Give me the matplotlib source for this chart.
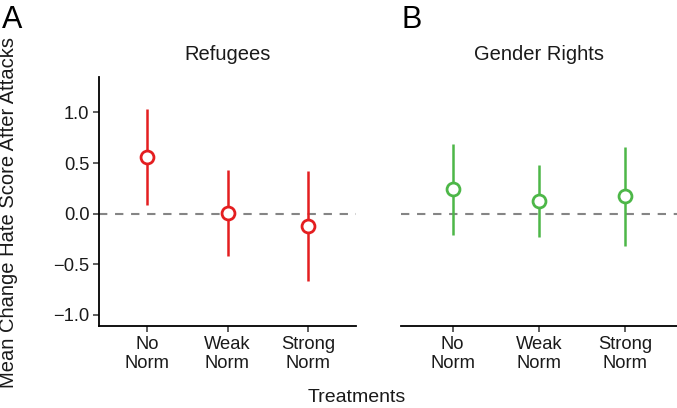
import matplotlib
matplotlib.use("Agg")
import matplotlib.pyplot as plt

plt.rcParams['font.family'] = ['Liberation Sans', 'DejaVu Sans']

categories = ["No\nNorm", "Weak\nNorm", "Strong\nNorm"]

refugees_mean = [0.558, 0.010, -0.119]
refugees_low = [0.083, -0.419, -0.666]
refugees_high = [1.034, 0.433, 0.426]

gender_mean = [0.240, 0.126, 0.172]
gender_low = [-0.214, -0.234, -0.317]
gender_high = [0.690, 0.482, 0.663]

yticks = [-1.0, -0.5, 0.0, 0.5, 1.0]
ytick_labels = ["\u22121.0", "\u22120.5", "0.0", "0.5", "1.0"]

RED = "#E41E20"
GREEN = "#4DB748"

W, H = 677, 408
fig = plt.figure(figsize=(W / 100, H / 100), dpi=100)

def px_axes(x0, x1, y_top, y_bot):
    return fig.add_axes([x0 / W, 1 - y_bot / H, (x1 - x0) / W, (y_bot - y_top) / H])

axA = px_axes(99, 356, 77, 326)
axB = px_axes(401, 677, 77, 326)

def draw(ax, mean, low, high, color, title, show_y):
    xs = list(range(1, len(categories) + 1))
    ax.axhline(0, color="#858585", lw=1.5, ls=(0, (4, 3.7)), zorder=1)
    ax.vlines(xs, low, high, color=color, lw=1.8, zorder=2)
    ax.plot(xs, mean, ls="none", marker="o", ms=9.3, mfc="white", mec=color, mew=2.0, zorder=3)
    ax.set_xlim(0.4, 3.6)
    ax.set_ylim(-1.11, 1.35)
    ax.set_xticks(xs)
    ax.set_xticklabels(categories, fontsize=13.2, color="#1a1a1a", linespacing=1.15)
    for s in ["top", "right"]:
        ax.spines[s].set_visible(False)
    ax.spines["bottom"].set_linewidth(1.3)
    ax.spines["left"].set_linewidth(1.3)
    ax.tick_params(axis="x", length=4, width=1.1, color="#333333", pad=3)
    if show_y:
        ax.set_yticks(yticks)
        ax.set_yticklabels(ytick_labels, fontsize=13.2, color="#1a1a1a")
        ax.tick_params(axis="y", length=4, width=1.1, color="#333333", pad=3)
    else:
        ax.spines["left"].set_visible(False)
        ax.set_yticks([])
    ax.set_title(title, fontsize=14.5, pad=12.5, color="#1a1a1a")

draw(axA, refugees_mean, refugees_low, refugees_high, RED, "Refugees", True)
draw(axB, gender_mean, gender_low, gender_high, GREEN, "Gender Rights", False)

fig.text(2 / W, 1 - 5 / H, "A", fontsize=22, ha="left", va="top")
fig.text(401 / W, 1 - 5 / H, "B", fontsize=22, ha="left", va="top")
fig.text(357 / W, 1 - 398 / H, "Treatments", fontsize=14, ha="center", va="center", color="#1a1a1a")
fig.text(9 / W, 1 - 212 / H, "Mean Change Hate Score After Attacks", fontsize=14.5,
         rotation=90, ha="center", va="center", color="#1a1a1a")

fig.savefig("out.png", dpi=100)
